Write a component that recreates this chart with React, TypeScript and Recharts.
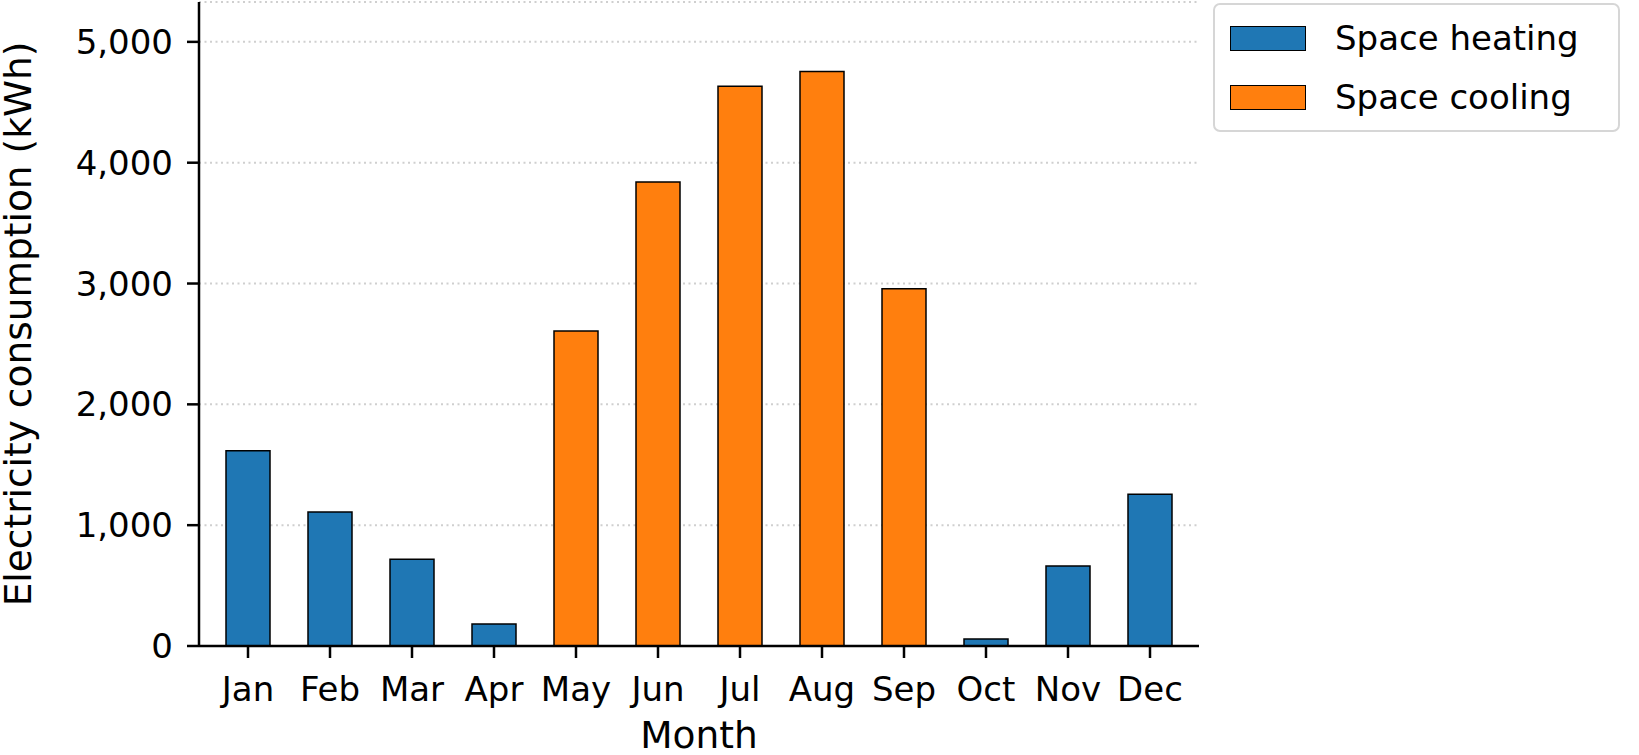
import React from "react";
import { Bar, BarChart, CartesianGrid, Legend, XAxis, YAxis } from "recharts";

const months = ["Jan", "Feb", "Mar", "Apr", "May", "Jun", "Jul", "Aug", "Sep", "Oct", "Nov", "Dec"];
const heating = [1615, 1110, 717, 182, null, null, null, null, null, 58, 662, 1256];
const cooling = [null, null, null, null, 2608, 3840, 4632, 4755, 2956, null, null, null];
const yTicks = [0, 1000, 2000, 3000, 4000, 5000];

const seriesNames = ["Space heating", "Space cooling"];
const BLUE = "#1f77b4";
const ORANGE = "#ff7f0e";
const FONT = "DejaVu Sans";

const data = months.map((m, i) => ({ month: m, heating: heating[i], cooling: cooling[i] }));

function LegendBox({ payload }: any) {
  // keep the legend in the order the series were declared
  const items = [...(payload || [])].sort((a: any, b: any) => seriesNames.indexOf(a.value) - seriesNames.indexOf(b.value));
  return (
    <div
      style={{
        width: 403,
        height: 125,
        border: "2px solid #d6d6d6",
        borderRadius: 7,
        background: "#fff",
        fontFamily: FONT,
        fontSize: 34,
        color: "#000",
        display: "flex",
        flexDirection: "column",
        justifyContent: "center",
        gap: 17,
        boxSizing: "content-box",
      }}
    >
      {items.map((p: any) => (
        <div key={p.value} style={{ display: "flex", alignItems: "center", height: 42 }}>
          <div style={{ width: 74, height: 23, marginLeft: 15, background: p.color, border: "1.5px solid #000" }} />
          <span style={{ marginLeft: 29, lineHeight: 1 }}>{p.value}</span>
        </div>
      ))}
    </div>
  );
}

export default function App() {
  return (
    <div style={{ width: 1639, height: 755, background: "#fff" }}>
      <style>{"body{margin:0}"}</style>
      <BarChart width={1639} height={755} data={data} margin={{ top: 2, right: 440, bottom: 0, left: 0 }}>
        <CartesianGrid vertical={false} stroke="#cfcfcf" strokeWidth={2} strokeDasharray="2 3.5" />
        <XAxis
          dataKey="month"
          height={109}
          padding={{ left: 8, right: 8 }}
          axisLine={{ stroke: "#000", strokeWidth: 2.5 }}
          tickLine={{ stroke: "#000", strokeWidth: 2.5 }}
          tickSize={12}
          tickMargin={19}
          tick={{ fill: "#000", fontSize: 34, fontFamily: FONT }}
          interval={0}
          label={{
            content: ({ viewBox }: any) => (
              <text x={viewBox.x + viewBox.width / 2} y={viewBox.y + 102} textAnchor="middle" fontSize={37.5} fontFamily={FONT} fill="#000">
                Month
              </text>
            ),
          }}
        />
        <YAxis
          width={199}
          domain={[0, 5330]}
          ticks={yTicks}
          allowDataOverflow
          axisLine={{ stroke: "#000", strokeWidth: 2.5 }}
          tickLine={{ stroke: "#000", strokeWidth: 2.5 }}
          tickSize={12}
          tickMargin={14}
          tick={{ fill: "#000", fontSize: 34, fontFamily: FONT }}
          tickFormatter={(v: number) => v.toLocaleString("en-US")}
          label={{
            content: ({ viewBox }: any) => {
              const cx = viewBox.x + 31;
              const cy = viewBox.y + viewBox.height / 2;
              return (
                <text x={cx} y={cy} textAnchor="middle" fontSize={37.5} fontFamily={FONT} fill="#000" transform={`rotate(-90 ${cx} ${cy})`}>
                  Electricity consumption (kWh)
                </text>
              );
            },
          }}
        />
        <Legend
          layout="vertical"
          align="center"
          verticalAlign="middle"
          wrapperStyle={{ top: 3, left: 1213, width: 407, height: 129 }}
          content={<LegendBox />}
        />
        <Bar dataKey="heating" name={seriesNames[0]} stackId="m" fill={BLUE} stroke="#000" strokeWidth={1.5} barSize={44} isAnimationActive={false} />
        <Bar dataKey="cooling" name={seriesNames[1]} stackId="m" fill={ORANGE} stroke="#000" strokeWidth={1.5} barSize={44} isAnimationActive={false} />
      </BarChart>
    </div>
  );
}
